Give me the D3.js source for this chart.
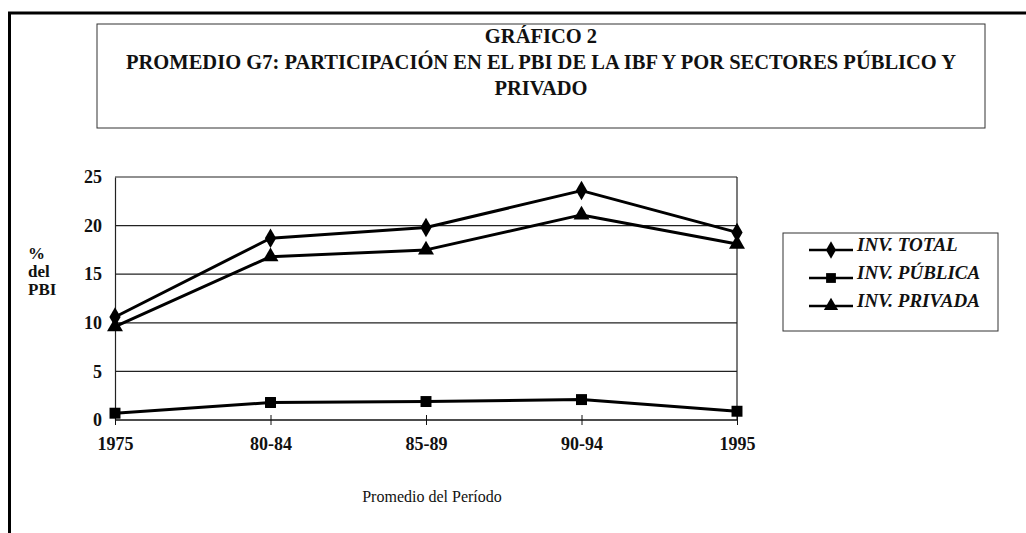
<!DOCTYPE html>
<html>
<head>
<meta charset="utf-8">
<script src="https://cdn.jsdelivr.net/npm/d3@7"></script>
<style>
  body { margin: 0; background: #fff; }
</style>
</head>
<body>
<div id="chart"></div>
<script>
// data
var periods = ["1975", "80-84", "85-89", "90-94", "1995"];
var invTotal = [10.6, 18.7, 19.8, 23.6, 19.3];
var invPublica = [0.7, 1.8, 1.9, 2.1, 0.9];
var invPrivada = [9.6, 16.8, 17.5, 21.1, 18.1];
var yTicks = [0, 5, 10, 15, 20, 25];
var seriesNames = ["INV. TOTAL", "INV. PÚBLICA", "INV. PRIVADA"];
var titleLines = ["GRÁFICO 2",
  "PROMEDIO G7: PARTICIPACIÓN EN EL PBI DE LA IBF Y POR SECTORES PÚBLICO Y",
  "PRIVADO"];

var FONT = "'Liberation Serif', 'DejaVu Serif', 'Times New Roman', serif";

var W = 1026, H = 533;
var margin = {top: 177, left: 115, right: 289, bottom: 113};
var width = W - margin.left - margin.right,
    height = H - margin.top - margin.bottom;

var svg = d3.select("#chart").append("svg")
    .attr("width", W)
    .attr("height", H)
    .style("font-family", FONT);

// page frame (top + left thick lines)
svg.append("line").attr("x1", 8).attr("x2", W).attr("y1", 13).attr("y2", 13)
  .attr("stroke", "#000").attr("stroke-width", 3);
svg.append("line").attr("x1", 9.5).attr("x2", 9.5).attr("y1", 12).attr("y2", H)
  .attr("stroke", "#000").attr("stroke-width", 3);

// title box
svg.append("rect").attr("x", 97).attr("y", 24).attr("width", 888).attr("height", 104)
  .attr("fill", "none").attr("stroke", "#333").attr("stroke-width", 1);
var titles = svg.selectAll(".title").data(titleLines).enter().append("text")
  .attr("class", "title")
  .attr("x", 541)
  .attr("y", function(d, i) { return 43 + i * 26; })
  .attr("text-anchor", "middle")
  .style("font-family", FONT)
  .style("font-size", "21px")
  .style("font-weight", "bold")
  .attr("fill", "#111")
  .text(function(d) { return d; });
// the scanned title is a bit condensed: squeeze to the width of the long line
var k = 830 / titles.nodes()[1].getComputedTextLength();
if (k < 1) {
  titles.each(function() {
    d3.select(this).attr("textLength", this.getComputedTextLength() * k)
      .attr("lengthAdjust", "spacingAndGlyphs");
  });
}

var g = svg.append("g")
  .attr("transform", "translate(" + margin.left + "," + margin.top + ")");

var x = d3.scalePoint().domain(periods).range([0, width]);
var y = d3.scaleLinear().domain([0, 25]).range([height, 0]);

// gridlines
g.selectAll(".grid").data(yTicks.slice(1)).enter().append("line")
  .attr("class", "grid")
  .attr("x1", 0).attr("x2", width)
  .attr("y1", function(d) { return y(d); })
  .attr("y2", function(d) { return y(d); })
  .attr("stroke", "#222").attr("stroke-width", 1.2);
// right border
g.append("line").attr("x1", width).attr("x2", width).attr("y1", 0).attr("y2", height)
  .attr("stroke", "#222").attr("stroke-width", 1.2);

// y axis
var yAxis = g.append("g").call(d3.axisLeft(y).tickValues(yTicks).tickSize(0).tickPadding(13));
yAxis.select(".domain").attr("stroke", "#222").attr("stroke-width", 1.2);
yAxis.selectAll("text")
  .style("font-family", FONT)
  .style("font-size", "18px").style("font-weight", "bold").attr("fill", "#111");

// x axis
var xAxis = g.append("g").attr("transform", "translate(0," + height + ")")
  .call(d3.axisBottom(x).tickSize(5).tickPadding(12));
xAxis.select(".domain").attr("d", "M0,0H" + width).attr("stroke", "#111").attr("stroke-width", 1.5);
xAxis.selectAll(".tick line").attr("y1", -5).attr("y2", 5).attr("stroke", "#111");
xAxis.selectAll("text")
  .style("font-family", FONT)
  .style("font-size", "18px").style("font-weight", "bold").attr("fill", "#111");

// axis titles
var yTitle = svg.append("text").attr("x", 28).attr("y", 259)
  .style("font-family", FONT)
  .style("font-size", "17px").style("font-weight", "bold").attr("fill", "#111");
["%", "del", "PBI"].forEach(function(t, i) {
  yTitle.append("tspan").attr("x", 28).attr("dy", i === 0 ? 0 : 18).text(t);
});
svg.append("text").attr("x", 432).attr("y", 502)
  .attr("text-anchor", "middle")
  .style("font-family", FONT).style("font-size", "16px").attr("fill", "#111")
  .text("Promedio del Período");

// series
var series = [
  {name: seriesNames[0], values: invTotal, symbol: d3.symbolDiamond, size: 110},
  {name: seriesNames[1], values: invPublica, symbol: d3.symbolSquare, size: 120},
  {name: seriesNames[2], values: invPrivada, symbol: d3.symbolTriangle, size: 110}
];

var line = d3.line()
  .x(function(d, i) { return x(periods[i]); })
  .y(function(d) { return y(d); });

series.forEach(function(s) {
  g.append("path").datum(s.values)
    .attr("d", line)
    .attr("fill", "none").attr("stroke", "#000").attr("stroke-width", 3)
    .attr("stroke-linejoin", "round");
  g.selectAll(null).data(s.values).enter().append("path")
    .attr("d", d3.symbol().type(s.symbol).size(s.size))
    .attr("transform", function(d, i) { return "translate(" + x(periods[i]) + "," + y(d) + ")"; })
    .attr("fill", "#000");
});

// legend
var legend = svg.append("g");
legend.append("rect").attr("x", 783).attr("y", 233).attr("width", 215).attr("height", 98)
  .attr("fill", "none").attr("stroke", "#333").attr("stroke-width", 1);
series.forEach(function(s, i) {
  var ly = 250 + i * 28;
  legend.append("line").attr("x1", 809).attr("x2", 853).attr("y1", ly).attr("y2", ly)
    .attr("stroke", "#000").attr("stroke-width", 2.5);
  legend.append("path")
    .attr("d", d3.symbol().type(s.symbol).size(s.size * 0.8))
    .attr("transform", "translate(831," + ly + ")")
    .attr("fill", "#000");
  legend.append("text").attr("x", 857).attr("y", ly + 1)
    .style("font-family", FONT)
    .style("font-size", "19px").style("font-weight", "bold").style("font-style", "italic")
    .attr("fill", "#111")
    .text(s.name);
});
</script>
</body>
</html>
